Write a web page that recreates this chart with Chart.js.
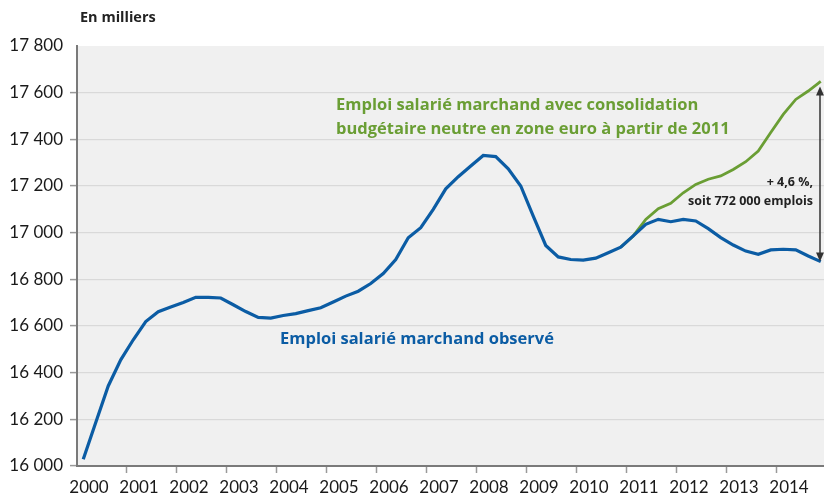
<!DOCTYPE html>
<html><head><meta charset="utf-8">
<script src="https://cdn.jsdelivr.net/npm/chart.js@4/dist/chart.umd.min.js"></script>
<style>html,body{margin:0;padding:0;background:#fff}#wrap{width:824px;height:496px;position:relative}</style>
</head><body><div id="wrap"><canvas id="c" width="824" height="496"></canvas></div>
<script>
const quarters = [];
const yearsList = [2000,2001,2002,2003,2004,2005,2006,2007,2008,2009,2010,2011,2012,2013,2014];
for (const y of yearsList) for (const q of [1,2,3,4]) quarters.push([y,q]);
const observed = [16029,16186,16343,16455,16541,16619,16661,16681,16701,16723,16723,16720,16691,16662,16637,16634,
16645,16653,16666,16678,16703,16728,16749,16782,16825,16885,16978,17021,17100,17188,17240,17286,
17331,17326,17274,17200,17071,16945,16896,16885,16882,16891,16914,16938,16986,17036,17057,17047,
17057,17050,17017,16979,16947,16921,16907,16926,16929,16926,16900,16876];
const scenario = [null,null,null,null,null,null,null,null,null,null,null,null,null,null,null,null,
null,null,null,null,null,null,null,null,null,null,null,null,null,null,null,null,
null,null,null,null,null,null,null,null,null,null,null,16938,16986,17057,17103,17126,
17171,17207,17229,17243,17271,17304,17350,17429,17507,17571,17607,17648];
const yTicks = [16000,16200,16400,16600,16800,17000,17200,17400,17600,17800];
const xLabelYears = yearsList;
const LABEL_OFFSET = 0.24;
const fmt = v => String(v).replace(/\B(?=(\d{3})+(?!\d))/g, ' ');

const xs = quarters.map(([y,q]) => y + (q - 0.5) / 4);
const obsData = xs.map((x,i) => ({x, y: observed[i]}));
const scnData = xs.map((x,i) => ({x, y: scenario[i]}));

const FONT = 'Lato, "Open Sans", sans-serif';
const BFONT = '"Open Sans", Lato, sans-serif';
const bgPlugin = {
  id: 'bg',
  beforeDraw(chart) {
    const {ctx, chartArea:a} = chart;
    ctx.save(); ctx.fillStyle = '#f0f0f0';
    ctx.fillRect(a.left, a.top, a.right - a.left, a.bottom - a.top);
    ctx.restore();
  },
  afterDatasetsDraw(chart) {
    const {ctx, scales:{x, y}} = chart;
    ctx.save();
    ctx.textBaseline = 'middle';
    ctx.font = 'bold 14.5px ' + BFONT; ctx.fillStyle = '#222'; ctx.textAlign = 'left';
    ctx.fillText('En milliers', 80, 18);
    ctx.font = 'bold 16.5px ' + BFONT; ctx.fillStyle = '#6a9e34';
    ctx.fillText('Emploi salarié marchand avec consolidation', 336, 105);
    ctx.fillText('budgétaire neutre en zone euro à partir de 2011', 336, 129);
    ctx.fillStyle = '#0b5ca4';
    ctx.fillText('Emploi salarié marchand observé', 280, 339);
    ctx.fillStyle = '#222'; ctx.font = 'bold 12.5px ' + BFONT; ctx.textAlign = 'right';
    ctx.fillText('+ 4,6 %,', 813, 182);
    ctx.fillText('soit 772 000 emplois', 813, 201);
    // arrow
    const ax = 820;
    const last = xs.length - 1;
    const yTop = y.getPixelForValue(scenario[last]) + 5;
    const yBot = y.getPixelForValue(observed[last]);
    ctx.strokeStyle = '#333'; ctx.fillStyle = '#333'; ctx.lineWidth = 1.5;
    ctx.beginPath(); ctx.moveTo(ax, yTop + 6); ctx.lineTo(ax, yBot - 6); ctx.stroke();
    ctx.beginPath(); ctx.moveTo(ax, yTop); ctx.lineTo(ax - 4, yTop + 9); ctx.lineTo(ax + 4, yTop + 9); ctx.closePath(); ctx.fill();
    ctx.beginPath(); ctx.moveTo(ax, yBot); ctx.lineTo(ax - 4, yBot - 9); ctx.lineTo(ax + 4, yBot - 9); ctx.closePath(); ctx.fill();
    ctx.restore();
  }
};

new Chart(document.getElementById('c'), {
  type: 'line',
  data: { datasets: [
    { label: 'Emploi salarié marchand observé', data: obsData, borderColor: '#0b5ca4', borderWidth: 3.2, pointRadius: 0, tension: 0, fill: false },
    { label: 'Emploi salarié marchand avec consolidation budgétaire neutre', data: scnData, borderColor: '#6a9e34', borderWidth: 2.8, pointRadius: 0, tension: 0, fill: false, spanGaps: false }
  ]},
  options: {
    responsive: false, animation: false,
    layout: { padding: { top: 46, left: 0, right: 0, bottom: 0 } },
    plugins: { legend: { display: false }, tooltip: { enabled: false } },
    scales: {
      x: {
        type: 'linear', min: 2000, max: 2000 + 747/50,
        afterBuildTicks(s) {
          const t = [];
          for (const yr of xLabelYears) { t.push({value: yr}); t.push({value: yr + LABEL_OFFSET}); }
          s.ticks = t;
        },
        afterFit(s) { s.height = 30; },
        border: { color: '#7a7a7a', width: 2 },
        grid: { drawOnChartArea: false, drawTicks: true, tickLength: 7,
          tickColor: c => (c.tick && Number.isInteger(c.tick.value) && c.tick.value > 2000) ? '#999' : 'rgba(0,0,0,0)', tickWidth: 1.5 },
        ticks: { autoSkip: false, maxRotation: 0, padding: 4, color: '#1a1a1a', font: { family: FONT, size: 17 },
          callback: v => Number.isInteger(v) ? '' : String(Math.floor(v)) }
      },
      y: {
        min: 16000, max: 17800,
        afterBuildTicks(s) { s.ticks = yTicks.map(v => ({value: v})); },
        afterFit(s) { s.width = 77; },
        border: { color: '#7a7a7a', width: 2 },
        grid: { color: c => (c.tick && (c.tick.value === 17800 || c.tick.value === 16000)) ? 'rgba(0,0,0,0)' : '#d9d9d9', lineWidth: 1.2,
          tickLength: 7, tickColor: c => (c.tick && c.tick.value === 17800) ? 'rgba(0,0,0,0)' : '#999', tickWidth: 1.5 },
        ticks: { padding: 7, color: '#1a1a1a', font: { family: FONT, size: 17 }, callback: v => fmt(v) }
      }
    }
  },
  plugins: [bgPlugin]
});
</script></body></html>
